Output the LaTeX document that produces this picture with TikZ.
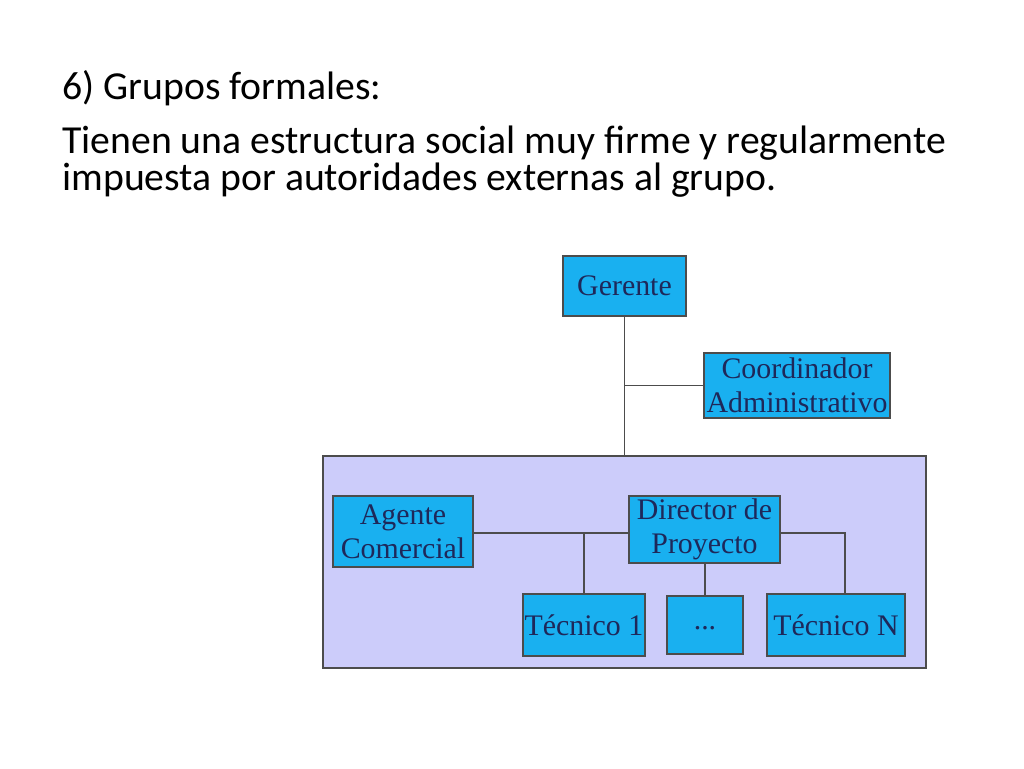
\documentclass[tikz,border=0pt]{standalone}
\usepackage{fontspec}
\setmainfont{Carlito}
\newfontfamily\boxfont{Liberation Serif}
\usetikzlibrary{positioning}
\definecolor{boxblue}{RGB}{25,176,240}
\definecolor{panel}{RGB}{204,204,250}
\definecolor{boxtext}{RGB}{30,40,90}
\begin{document}
\begin{tikzpicture}[x=0.02cm,y=-0.02cm]
        \tikzset{block/.style={draw=black!70, fill=boxblue, thick, rectangle, align=center, inner sep=0pt, font=\boxfont\fontsize{17}{19.5}\selectfont, text=boxtext},
        txt/.style={anchor=west, inner sep=0pt, font=\fontsize{22.6}{26}\selectfont},
        }
        \useasboundingbox (0,0) rectangle (1024,768);
        \node [txt] (title) at (62,88) {6) Grupos formales:};
        \node [txt] (body1) at (62,143) {Tienen una estructura social muy firme y regularmente};
        \node [txt] (body2) at (62,180) {impuesta por autoridades externas al grupo.};
        \node [draw=black!70, fill=panel, thick, minimum width=603*0.02cm, minimum height=212*0.02cm, inner sep=0pt] (panel) at (624.5,562) {};
        \node [block, minimum width=123*0.02cm, minimum height=60*0.02cm] (gerente) at (624.5,286) {Gerente};
        \node [block, minimum width=186*0.02cm, minimum height=65*0.02cm] (coord) at (797,385.5) {Coordinador\\Administrativo};
        \node [block, minimum width=140*0.02cm, minimum height=71*0.02cm] (agente) at (403,531.5) {Agente\\Comercial};
        \node [block, minimum width=151*0.02cm, minimum height=67*0.02cm] (director) at (704.5,529.5) {Director de\\Proyecto};
        \node [block, minimum width=122*0.02cm, minimum height=62*0.02cm] (tec1) at (584,625) {Técnico 1};
        \node [block, minimum width=76*0.02cm, minimum height=58*0.02cm] (dots) at (705,625) {\raisebox{-5pt}{...}};
        \node [block, minimum width=138*0.02cm, minimum height=62*0.02cm] (tecN) at (836,625) {Técnico N};
        \coordinate (branch) at (gerente.south |- coord.west);
        \coordinate (right) at (845,533);

%% paths
        \path[draw, black!70, semithick] (gerente.south) -- (gerente.south |- panel.north)
                    (branch) -- (coord.west)
                    (agente.east |- 0,533) -- (director.west |- 0,533)
                    (tec1.north) -- (tec1.north |- 0,533)
                    (director.east |- 0,533) -| (tecN.north -| right)
                    (director.south -| dots.north) -- (dots.north)
                    ;
\end{tikzpicture}
\end{document}
